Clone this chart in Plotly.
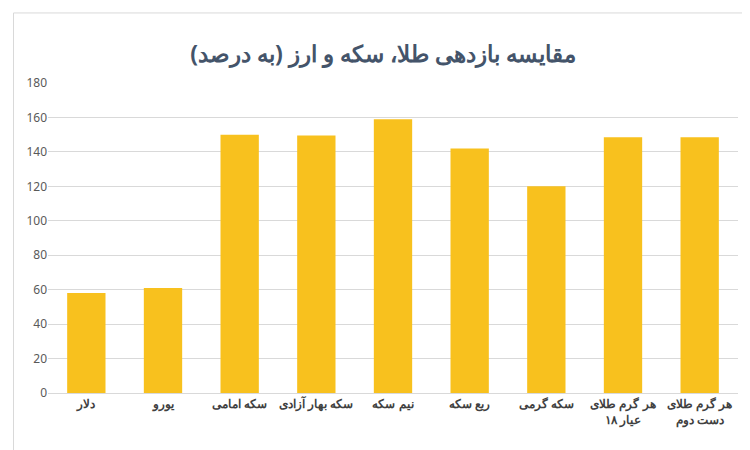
import plotly.graph_objects as go

categories = ["دلار", "یورو", "سکه امامی", "سکه بهار آزادی", "نیم سکه", "ربع سکه",
              "سکه گرمی", "هر گرم طلای<br>۱۸ عیار", "هر گرم طلای<br>دست دوم"]
values = [58, 61, 150, 149.5, 159, 142, 120, 148.5, 148.5]
y_ticks = [0, 20, 40, 60, 80, 100, 120, 140, 160, 180]

fig = go.Figure(go.Bar(
    x=["<b>" + c.replace("<br>", "</b><br><b>") + "</b>" for c in categories], y=values,
    marker=dict(color="#F8C11E", line=dict(width=0)),
    width=0.5,
))

fig.update_layout(
    width=750, height=450,
    title=dict(text="<b>مقایسه بازدهی طلا، سکه و ارز (به درصد)</b>", x=0.5, y=0.915,
               font=dict(family="Noto Sans", size=23, color="#44546A")),
    paper_bgcolor="white", plot_bgcolor="white",
    margin=dict(l=40, r=20, t=75, b=65),
    showlegend=False,
    font=dict(family="Noto Sans", color="#404040"),
    xaxis=dict(tickfont=dict(size=12, color="#404040", family="Noto Sans"),
               showline=True, linecolor="#D9D9D9", ticks=""),
    yaxis=dict(range=[0, 180], tickvals=y_ticks, showgrid=True, gridcolor="#D9D9D9",
               zeroline=False, tickfont=dict(size=12, color="#595959")),
    shapes=[dict(type="rect", xref="paper", yref="paper", x0=-0.05, x1=1.02, y0=-0.194, y1=1.226,
                 line=dict(color="#D9D9D9", width=1))],
)

fig.write_html("out.html")
